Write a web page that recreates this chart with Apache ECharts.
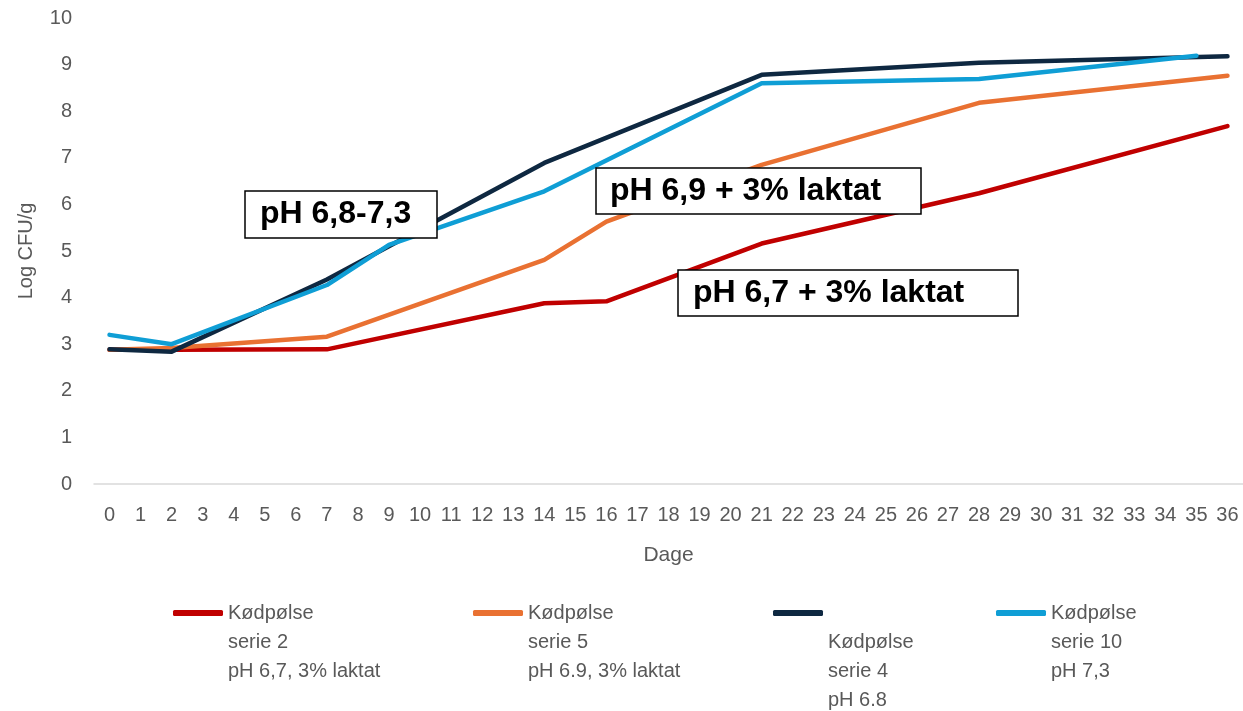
<!DOCTYPE html>
<html>
<head>
<meta charset="utf-8">
<script src="https://cdn.jsdelivr.net/npm/echarts@6/dist/echarts.min.js"></script>
<style>
html,body{margin:0;padding:0;background:#fff;}
#c{width:1243px;height:711px;}
</style>
</head>
<body>
<div id="c"></div>
<script>
// Days (category axis)
var days = [];
for (var d = 0; d <= 36; d++) days.push(String(d));

// Series values (Log CFU/g), keyed by day; other days are null (connected)
var serie2Days  = [0, 2, 7, 14, 16, 21, 28, 36];
var serie2Vals  = [2.88, 2.88, 2.89, 3.88, 3.92, 5.16, 6.24, 7.68];

var serie5Days  = [0, 2, 7, 14, 16, 21, 28, 36];
var serie5Vals  = [2.88, 2.92, 3.16, 4.81, 5.63, 6.85, 8.18, 8.76];

var serie4Days  = [0, 2, 7, 14, 21, 28, 36];
var serie4Vals  = [2.89, 2.84, 4.39, 6.89, 8.78, 9.04, 9.18];

var serie10Days = [0, 2, 7, 9, 14, 21, 28, 35];
var serie10Vals = [3.20, 3.00, 4.27, 5.13, 6.28, 8.60, 8.69, 9.19];

var names = [
  'Kødpølse\nserie 2\npH 6,7, 3% laktat',
  'Kødpølse\nserie 5\npH 6.9, 3% laktat',
  'Kødpølse\nserie 4\npH 6.8',
  'Kødpølse\nserie 10\npH 7,3'
];
var colors = ['#C00000', '#E97132', '#0E2841', '#0F9ED5'];

var annotations = ['pH 6,8-7,3', 'pH 6,9 + 3% laktat', 'pH 6,7 + 3% laktat'];

function toSeries(dd, vv) {
  var arr = days.map(function () { return null; });
  for (var i = 0; i < dd.length; i++) arr[dd[i]] = vv[i];
  return arr;
}

var seriesData = [
  toSeries(serie2Days, serie2Vals),
  toSeries(serie5Days, serie5Vals),
  toSeries(serie4Days, serie4Vals),
  toSeries(serie10Days, serie10Vals)
];

var FONT = 'Liberation Sans, Arial, sans-serif';
var GREY = '#595959';
var LH = 29;
var SYM_Y = 613;

// k leading blank lines shift the (centered) text block down so that
// content line (k/2 - 1) sits on the symbol line.
function mkLegend(i, left, k) {
  var nLines = 3 + k;
  var prefix = '';
  for (var j = 0; j < k; j++) prefix += '\n';
  return {
    show: true,
    data: [names[i]],
    left: left,
    top: SYM_Y - nLines * LH / 2,
    padding: 0,
    orient: 'horizontal',
    icon: 'roundRect',
    itemWidth: 50,
    itemHeight: 6,
    selectedMode: false,
    formatter: function (n) { return prefix + n; },
    textStyle: { fontFamily: FONT, fontSize: 20, color: GREY, lineHeight: LH }
  };
}

var legends = [
  mkLegend(0, 173, 2),
  mkLegend(1, 473, 2),
  mkLegend(2, 773, 4),
  mkLegend(3, 996, 2)
];

function box(x, y, w, h, txt, tx) {
  return {
    type: 'group',
    z: 100,
    children: [
      { type: 'rect', shape: { x: x, y: y, width: w, height: h },
        style: { fill: '#fff', stroke: '#000', lineWidth: 1.5 }, z: 100 },
      { type: 'text', x: tx, y: y + h / 2, z: 101,
        style: { text: txt, fill: '#000', font: 'bold 32px ' + FONT,
                 textAlign: 'left', textVerticalAlign: 'middle', verticalAlign: 'middle' } }
    ]
  };
}

var chart = echarts.init(document.getElementById('c'), null, { renderer: 'canvas' });
chart.setOption({
  animation: false,
  backgroundColor: '#fff',
  textStyle: { fontFamily: FONT },
  grid: { left: 94, top: 18, width: 1151, height: 466, containLabel: false },
  legend: legends,
  xAxis: {
    type: 'category',
    data: days,
    boundaryGap: true,
    name: 'Dage',
    nameLocation: 'middle',
    nameGap: 61,
    nameTextStyle: { fontFamily: FONT, fontSize: 21, color: GREY },
    axisLine: { lineStyle: { color: '#D9D9D9', width: 1.5 } },
    axisTick: { show: false },
    axisLabel: { interval: 0, fontFamily: FONT, fontSize: 20, color: GREY, margin: 21 }
  },
  yAxis: {
    type: 'value',
    min: 0, max: 10, interval: 1,
    name: 'Log CFU/g',
    nameLocation: 'middle',
    nameRotate: 90,
    nameGap: 58,
    nameTextStyle: { fontFamily: FONT, fontSize: 20, color: GREY },
    axisLine: { show: false },
    axisTick: { show: false },
    splitLine: { show: false },
    axisLabel: { fontFamily: FONT, fontSize: 20, color: GREY, margin: 22 }
  },
  series: seriesData.map(function (arr, i) {
    return {
      name: names[i],
      type: 'line',
      data: arr,
      connectNulls: true,
      symbol: 'none',
      smooth: false,
      color: colors[i],
      lineStyle: { color: colors[i], width: 4.5, cap: 'round', join: 'round' },
      z: 2 + i
    };
  }),
  graphic: [
    box(245, 191, 192, 47, annotations[0], 260),
    box(596, 168, 325, 46, annotations[1], 610),
    box(678, 270, 340, 46, annotations[2], 693)
  ]
});
</script>
</body>
</html>
